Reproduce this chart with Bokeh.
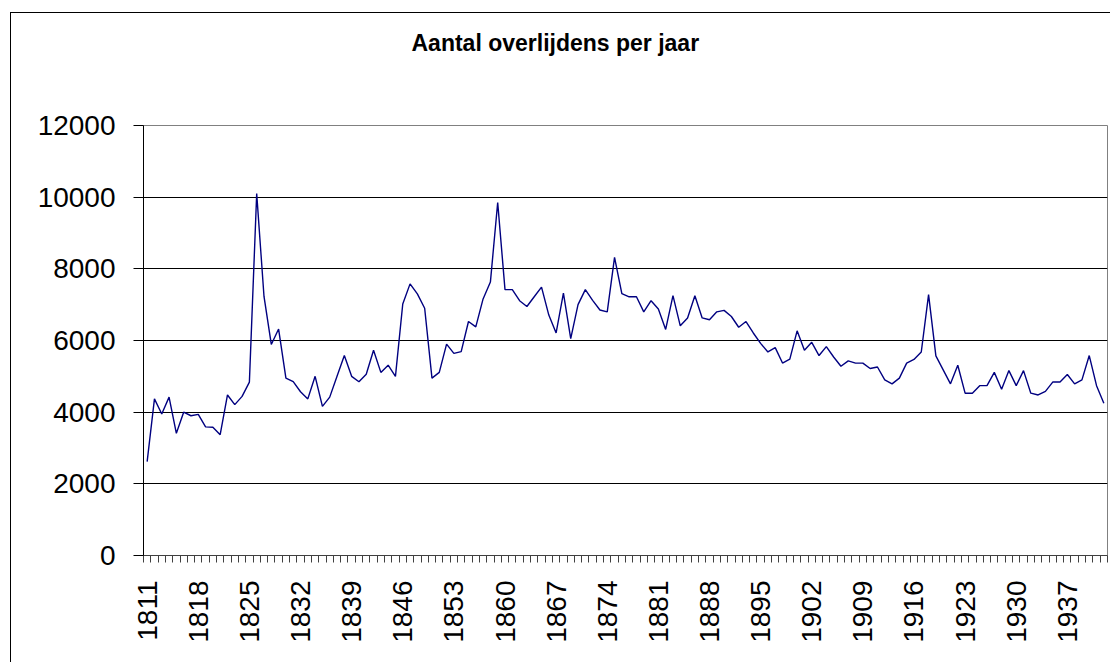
from bokeh.plotting import figure
from bokeh.models import FixedTicker, Range1d, LinearAxis
from bokeh.embed import file_html
from bokeh.resources import INLINE
from math import pi

# Categories (years) and series values
years = list(range(1811, 1943))
deaths = [
    2620, 4370, 3950, 4420, 3410, 4000, 3900, 3940, 3590, 3580,   # 1811-1820
    3370, 4480, 4210, 4440, 4840, 10100, 7230, 5890, 6320, 4950,  # 1821-1830
    4850, 4570, 4370, 5000, 4160, 4420, 5000, 5580, 5000, 4850,   # 1831-1840
    5060, 5730, 5110, 5310, 5000, 7020, 7580, 7300, 6900, 4950,   # 1841-1850
    5110, 5900, 5640, 5690, 6530, 6380, 7160, 7630, 9850, 7420,   # 1851-1860
    7420, 7110, 6950, 7220, 7490, 6710, 6210, 7320, 6050, 7000,   # 1861-1870
    7420, 7120, 6850, 6800, 8320, 7310, 7220, 7220, 6800, 7110,   # 1871-1880
    6880, 6310, 7250, 6410, 6630, 7250, 6630, 6580, 6800, 6840,   # 1881-1890
    6670, 6370, 6530, 6210, 5920, 5680, 5800, 5370, 5480, 6270,   # 1891-1900
    5730, 5950, 5580, 5830, 5540, 5280, 5430, 5370, 5370, 5220,   # 1901-1910
    5260, 4900, 4790, 4950, 5370, 5470, 5680, 7280, 5570, 5180,   # 1911-1920
    4790, 5310, 4530, 4530, 4740, 4740, 5110, 4640, 5160, 4740,   # 1921-1930
    5160, 4530, 4480, 4580, 4840, 4840, 5050, 4790, 4900, 5580,   # 1931-1940
    4740, 4250,                                                   # 1941-1942
]
tick_years = [1811, 1818, 1825, 1832, 1839, 1846, 1853, 1860, 1867, 1874,
              1881, 1888, 1895, 1902, 1909, 1916, 1923, 1930, 1937]
tick_labels = [str(y) for y in tick_years]
y_ticks = [0, 2000, 4000, 6000, 8000, 10000, 12000]
title_text = "Aantal overlijdens per jaar"

FONT = "Liberation Sans"

p = figure(width=1100, height=650, output_backend="svg", toolbar_location=None,
           x_range=Range1d(years[0] - 0.5, years[-1] + 0.5),
           y_range=Range1d(y_ticks[0], y_ticks[-1]),
           min_border_left=132, min_border_top=112,
           min_border_right=4, min_border_bottom=108)
p.styles = {"border-left": "1px solid #000000", "border-top": "1px solid #000000",
            "margin-left": "10px", "margin-top": "12px"}

p.background_fill_color = "white"
p.border_fill_color = "white"
p.outline_line_color = "#808080"
p.outline_line_width = 1

# X axis (category-like, ticks between years)
xa = p.below[0]
boundaries = [y - 0.5 for y in years] + [years[-1] + 0.5]
xa.ticker = FixedTicker(ticks=tick_years, minor_ticks=boundaries)
xa.major_label_overrides = {y: s for y, s in zip(tick_years, tick_labels)}
xa.major_label_orientation = pi / 2
xa.major_tick_line_color = None
xa.major_tick_out = 0
xa.major_tick_in = 0
xa.minor_tick_line_color = "#404040"
xa.minor_tick_out = 7
xa.minor_tick_in = 0
xa.axis_line_color = "#404040"
xa.major_label_standoff = 18
xa.major_label_text_font = FONT
xa.major_label_text_font_size = "28px"
xa.major_label_text_color = "black"

# Y axis
ya = p.left[0]
ya.ticker = FixedTicker(ticks=y_ticks, minor_ticks=[])
ya.major_label_overrides = {v: str(v) for v in y_ticks}
ya.major_tick_out = 10
ya.major_tick_in = 0
ya.major_tick_line_color = "black"
ya.axis_line_color = "black"
ya.major_label_standoff = 18
ya.major_label_text_font = FONT
ya.major_label_text_font_size = "28px"
ya.major_label_text_color = "black"

# invisible spacer axis above the frame, so the title sits higher up
spacer = LinearAxis(ticker=FixedTicker(ticks=[tick_years[0]], minor_ticks=[]),
                    major_label_overrides={tick_years[0]: ""},
                    axis_line_color=None,
                    major_tick_line_color=None, minor_tick_line_color=None,
                    major_tick_out=65, major_tick_in=0, minor_tick_out=0,
                    major_label_standoff=0, major_label_text_font_size="1px")
p.add_layout(spacer, "above")

p.title.text = title_text
p.title.align = "left"
p.title.offset = 268
p.title.standoff = 10
p.title.vertical_align = "bottom"
p.title.text_font = FONT
p.title.text_font_size = "23px"
p.title.text_font_style = "bold"
p.title.text_color = "black"

p.line(years, deaths, line_color="#000080", line_width=1.4)

p.xgrid.grid_line_color = None
p.ygrid.ticker = FixedTicker(ticks=y_ticks)
p.ygrid.grid_line_color = "black"
p.ygrid.grid_line_width = 1

open("out.html", "w").write(file_html(p, INLINE))
